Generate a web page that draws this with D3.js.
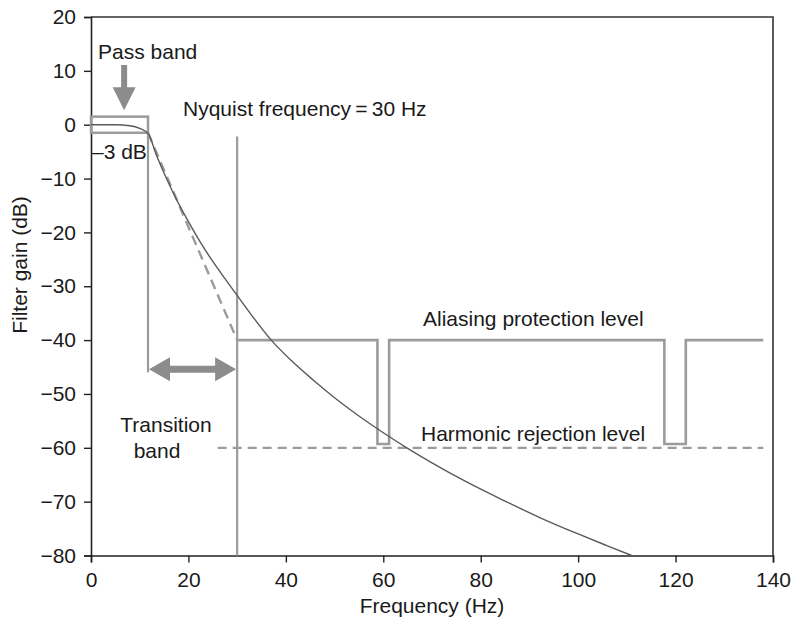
<!DOCTYPE html>
<html>
<head>
<meta charset="utf-8">
<script src="https://cdn.jsdelivr.net/npm/d3@7"></script>
<style>
  html, body { margin: 0; padding: 0; background: #fff; }
  svg text { font-family: "Liberation Sans", Arial, Helvetica, sans-serif; fill: #1a1a1a; }
</style>
</head>
<body>
<svg id="chart" width="792" height="623"></svg>
<script>
// Axis ticks
const freqTicks = [0, 20, 40, 60, 80, 100, 120, 140];
const gainTicks = [20, 10, 0, -10, -20, -30, -40, -50, -60, -70, -80];

// Measured filter response (Hz, dB)
const responseFreq = [0, 5, 8, 10, 11.7, 13.5, 15.5, 17.5, 20, 22.5, 25, 27.5, 30, 33, 37, 41, 45.6, 50, 55, 60, 65, 70, 77, 85, 92, 100, 106, 111];
const responseGain = [0, 0, -0.2, -0.7, -1.6, -5.8, -10, -13.8, -18, -21.9, -25.4, -28.6, -31.7, -35.4, -40, -43.7, -47.4, -50.7, -54.1, -57.2, -60.1, -62.8, -66.3, -69.9, -72.9, -76, -78.2, -80];

// Ideal straight-line roll-off across the transition band
const idealFreq = [11.7, 30];
const idealGain = [-1.5, -40];

// Pass band tolerance box
const passFreq = [0, 11.7];
const passGain = [1.5, -1.5];

// Transition band edges and Nyquist frequency
const transitionStart = 11.7;
const transitionArrowGain = -45.4;
const nyquistFreq = 30;
const nyquistTopGain = -2.2;

// Aliasing protection level with notches at the harmonics
const aliasFreq = [30, 58.8, 58.8, 61.2, 61.2, 117.7, 117.7, 122.1, 122.1, 138];
const aliasGain = [-40, -40, -59.3, -59.3, -40, -40, -59.3, -59.3, -40, -40];

// Harmonic rejection level
const harmonicFreq = [26, 138];
const harmonicGain = [-60, -60];

// Pass band pointer (Hz, dB)
const passArrowFreq = 6.8;
const passArrowGain = [11.1, 2.7];

const svg = d3.select("#chart");
const W = 792, H = 623;
const margin = { left: 91, right: 19, top: 17, bottom: 67.5 };
const FS = 21;

const x = d3.scaleLinear().domain([0, 140]).range([margin.left, W - margin.right]);
const y = d3.scaleLinear().domain([-80, 20]).range([H - margin.bottom, margin.top]);

const fmt = d => d < 0 ? "\u2212" + Math.abs(d) : String(d);
const grey = "#9b9b9b";
const arrowGrey = "#8c8c8c";

svg.append("rect").attr("width", W).attr("height", H).attr("fill", "#fff");

// Frame (top and right)
svg.append("path")
  .attr("d", `M${x(0)},${y(20)}H${x(140)}V${y(-80)}`)
  .attr("fill", "none").attr("stroke", "#333").attr("stroke-width", 1.6);

// Axes
const xAxis = svg.append("g")
  .attr("transform", `translate(0,${y(-80)})`)
  .call(d3.axisBottom(x).tickValues(freqTicks).tickSize(7).tickPadding(10).tickFormat(fmt));
const yAxis = svg.append("g")
  .attr("transform", `translate(${x(0)},0)`)
  .call(d3.axisLeft(y).tickValues(gainTicks).tickSize(7).tickPadding(8).tickFormat(fmt));
[xAxis, yAxis].forEach(g => {
  g.select(".domain").attr("stroke", "#222").attr("stroke-width", 1.6);
  g.selectAll(".tick line").attr("stroke", "#222").attr("stroke-width", 1.4);
  g.selectAll(".tick text").attr("font-size", FS).attr("fill", "#1a1a1a")
    .attr("font-family", "'Liberation Sans', Arial, sans-serif");
});

// Axis titles
svg.append("text")
  .attr("x", (x(0) + x(140)) / 2).attr("y", 613)
  .attr("text-anchor", "middle").attr("font-size", FS)
  .text("Frequency (Hz)");
svg.append("text")
  .attr("transform", "translate(27,265) rotate(-90)")
  .attr("text-anchor", "middle").attr("font-size", FS)
  .text("Filter gain (dB)");

const line = d3.line().x(d => x(d[0])).y(d => y(d[1]));

// Pass band box
svg.append("rect")
  .attr("x", x(passFreq[0])).attr("y", y(passGain[0]))
  .attr("width", x(passFreq[1]) - x(passFreq[0]))
  .attr("height", y(passGain[1]) - y(passGain[0]))
  .attr("fill", "none").attr("stroke", grey).attr("stroke-width", 2.5);

// Transition band start and Nyquist lines
svg.append("path")
  .attr("d", line([[transitionStart, passGain[1]], [transitionStart, transitionArrowGain - 0.6]]))
  .attr("stroke", grey).attr("stroke-width", 2.2).attr("fill", "none");
svg.append("path")
  .attr("d", line([[nyquistFreq, nyquistTopGain], [nyquistFreq, -80]]))
  .attr("stroke", grey).attr("stroke-width", 2.2).attr("fill", "none");

// Ideal roll-off (dashed)
svg.append("path")
  .attr("d", line(idealFreq.map((f, i) => [f, idealGain[i]])))
  .attr("stroke", grey).attr("stroke-width", 2.4).attr("stroke-dasharray", "10,6")
  .attr("fill", "none");

// Harmonic rejection level (dashed)
svg.append("path")
  .attr("d", line(harmonicFreq.map((f, i) => [f, harmonicGain[i]])))
  .attr("stroke", grey).attr("stroke-width", 2.2).attr("stroke-dasharray", "9,6")
  .attr("fill", "none");

// Aliasing protection level
svg.append("path")
  .attr("d", line(aliasFreq.map((f, i) => [f, aliasGain[i]])))
  .attr("stroke", grey).attr("stroke-width", 2.6).attr("fill", "none")
  .attr("stroke-linejoin", "miter");

// Filter response
svg.append("path")
  .attr("d", d3.line().curve(d3.curveMonotoneX).x(d => x(d[0])).y(d => y(d[1]))(responseFreq.map((f, i) => [f, responseGain[i]])))
  .attr("stroke", "#5a5a5a").attr("stroke-width", 1.4).attr("fill", "none");

// Pass band pointer: shaft plus downward head
{
  const cx = x(passArrowFreq), top = y(passArrowGain[0]), tip = y(passArrowGain[1]);
  const headLen = 23, headHalf = 11.5, shaftHalf = 3;
  svg.append("path")
    .attr("d", `M${cx - shaftHalf},${top}H${cx + shaftHalf}V${tip - headLen}H${cx + headHalf}L${cx},${tip}L${cx - headHalf},${tip - headLen}H${cx - shaftHalf}Z`)
    .attr("fill", arrowGrey);
}

// Transition band double arrow
{
  const x0 = x(transitionStart) + 1, x1 = x(nyquistFreq) - 1, cy = y(transitionArrowGain);
  const headLen = 21, headHalf = 12, shaftHalf = 3.5;
  svg.append("path")
    .attr("d", `M${x0},${cy}L${x0 + headLen},${cy - headHalf}V${cy - shaftHalf}H${x1 - headLen}V${cy - headHalf}L${x1},${cy}L${x1 - headLen},${cy + headHalf}V${cy + shaftHalf}H${x0 + headLen}V${cy + headHalf}Z`)
    .attr("fill", arrowGrey);
}

// Annotations
const note = (tx, ty, s, anchor = "start") => svg.append("text")
  .attr("x", tx).attr("y", ty).attr("font-size", FS).attr("text-anchor", anchor).text(s);
note(98, 59, "Pass band");
note(92, 159, "\u20133 dB");
note(183, 116, "Nyquist frequency\u2009=\u200930 Hz");
note(423, 326, "Aliasing protection level");
note(421, 441, "Harmonic rejection level");
note(166, 432, "Transition", "middle");
note(157, 458, "band", "middle");
</script>
</body>
</html>
